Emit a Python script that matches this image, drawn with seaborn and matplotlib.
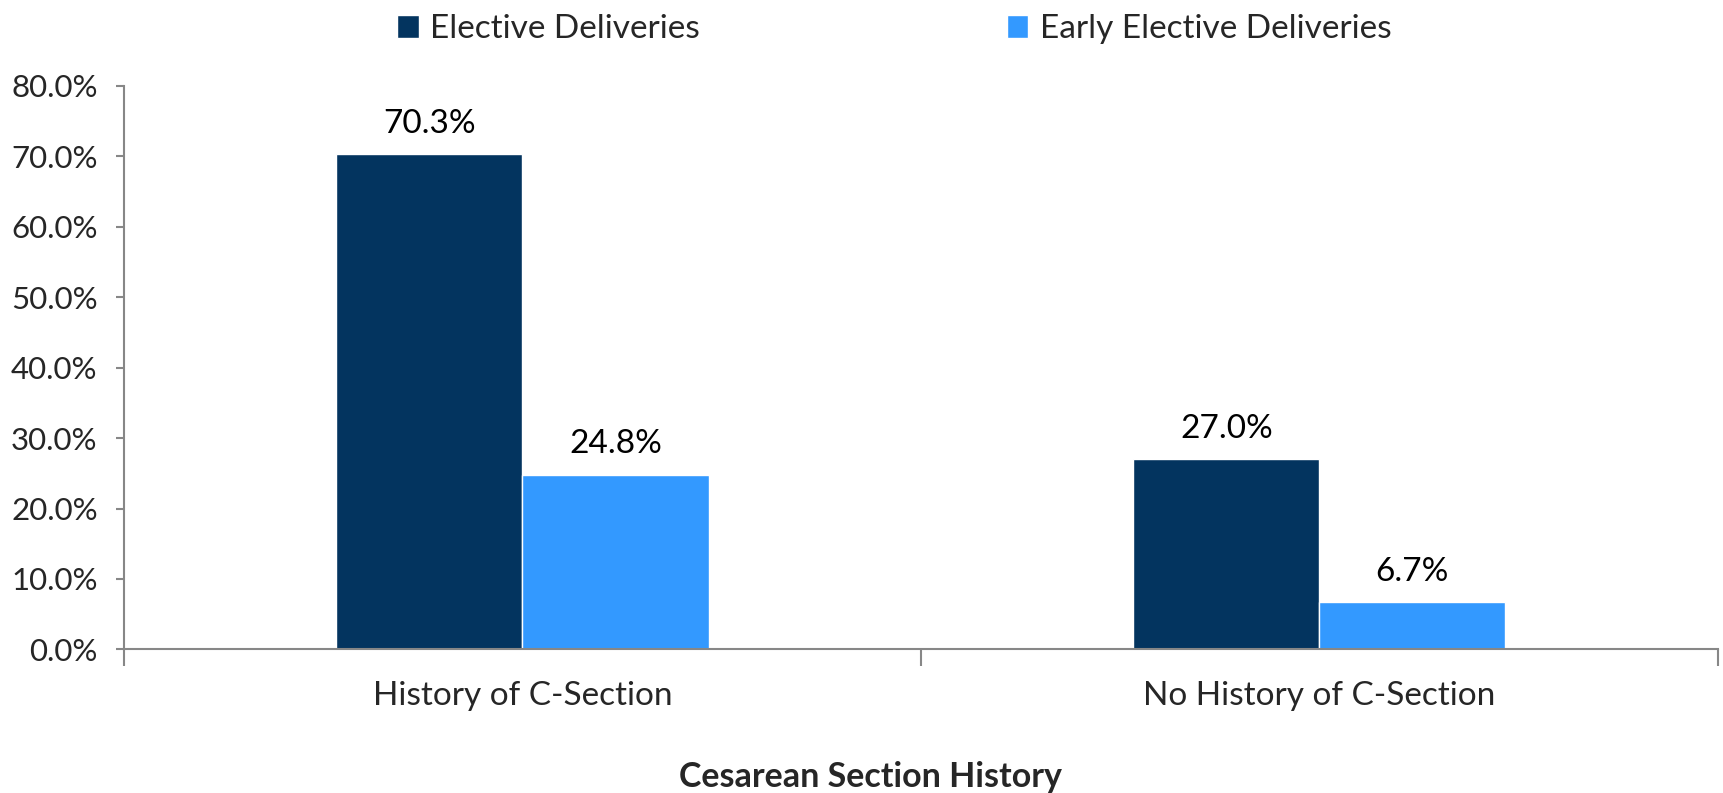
import numpy as np
import pandas as pd
import matplotlib
matplotlib.use("Agg")
import matplotlib.pyplot as plt
import seaborn as sns

# --- 데이터 ---
categories = ["History of C-Section", "No History of C-Section"]
series_names = ["Elective Deliveries", "Early Elective Deliveries"]
elective = [0.703, 0.270]
early_elective = [0.248, 0.067]
y_ticks = [0.0, 0.1, 0.2, 0.3, 0.4, 0.5, 0.6, 0.7, 0.8]

colors = ["#03345F", "#3399FF"]
axis_grey = "#878787"

df = pd.DataFrame({
    "Category": categories * 2,
    "Series": [series_names[0]] * 2 + [series_names[1]] * 2,
    "Value": elective + early_elective,
})

sns.set_theme(style="white")
plt.rcParams["font.family"] = ["Lato", "DejaVu Sans"]

fig = plt.figure(figsize=(17.23, 7.93), dpi=100)
ax = fig.add_axes([0.072, 0.181, 0.925, 0.711])

sns.barplot(data=df, x="Category", y="Value", hue="Series", order=categories,
            hue_order=series_names, palette=colors, width=0.467, gap=0,
            saturation=1, ax=ax, legend=True, errorbar=None)

# 막대 위 값 라벨
for cont in ax.containers:
    ax.bar_label(cont, labels=[f"{v * 100:.1f}%" for v in cont.datavalues],
                 padding=11, fontsize=24, color="black")

ax.set_xlim(-0.5, 1.5)
ax.set_ylim(0, 0.8)
ax.set_yticks(y_ticks)
ax.set_yticklabels([f"{t * 100:.1f}%" for t in y_ticks])

# 축 스타일
for side in ["top", "right"]:
    ax.spines[side].set_visible(False)
for side in ["left", "bottom"]:
    ax.spines[side].set_color(axis_grey)
    ax.spines[side].set_linewidth(1.5)

ax.tick_params(axis="y", which="major", length=6, width=1.5, color=axis_grey,
               labelsize=22.5, pad=13, left=True)
ax.tick_params(axis="x", which="major", length=0, labelsize=24, pad=23)
ax.set_xticks([-0.5, 0.5, 1.5], minor=True)
ax.tick_params(axis="x", which="minor", length=12, width=1.5, color=axis_grey,
               bottom=True)

ax.set_ylabel("")
ax.set_xlabel("Cesarean Section History", fontsize=24.5, fontweight="bold")
ax.xaxis.set_label_coords(0.468, -0.198)

# 범례
handles, labels = ax.get_legend_handles_labels()
ax.get_legend().remove()
fig.legend(handles, labels, loc="upper center", bbox_to_anchor=(0.519, 1.02),
           ncol=2, frameon=False, fontsize=24, handlelength=0.65,
           handleheight=0.65, handletextpad=0.35, columnspacing=9.2)

fig.savefig("out.png", dpi=100)
